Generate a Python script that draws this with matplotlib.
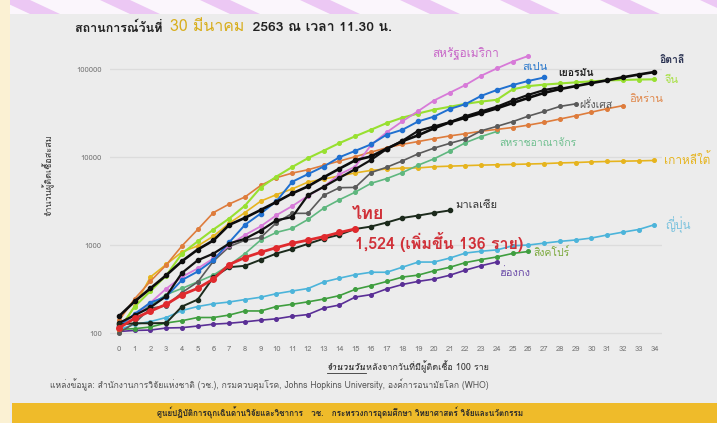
import matplotlib
matplotlib.use("Agg")
import matplotlib.pyplot as plt
from matplotlib import font_manager as fm
from matplotlib.patches import Rectangle, Polygon
import numpy as np

# ---------------- find a font with Thai glyphs ----------------
thai_family = None
try:
    from fontTools.ttLib import TTFont
    cands = sorted(fm.findSystemFonts())
    for f in cands:
        try:
            tt = TTFont(f, fontNumber=0, lazy=True)
            cm = tt.getBestCmap()
            if cm and 0x0E44 in cm and 0x0E2A in cm and 0x0E13 in cm:
                thai_family = fm.FontProperties(fname=f).get_name()
                fm.fontManager.addfont(f)
                break
        except Exception:
            pass
except Exception:
    pass
fams = ([thai_family] if thai_family else []) + ['DejaVu Sans']
plt.rcParams['font.family'] = fams

# ---------------- data (cumulative cases, day 0 = first day >= 100) ----------------
usa = [124, 158, 221, 319, 435, 541, 704, 994, 1301, 1630, 2183, 2770, 3613, 4596, 6344,
       7780, 13677, 19100, 25489, 33272, 43847, 53740, 65778, 83836, 101657, 121478, 140886]
spain = [120, 165, 222, 259, 400, 500, 673, 1073, 1695, 2277, 3146, 5232, 6391, 7798, 9942,
         11748, 13910, 17963, 20410, 25374, 28768, 35136, 39885, 49515, 57786, 65719, 73235, 80110]
germany = [130, 159, 196, 262, 482, 670, 799, 1040, 1176, 1457, 1908, 2078, 3675, 4585, 5795,
           7272, 9257, 12327, 15320, 19848, 22213, 24873, 29056, 32986, 37323, 43938, 50871,
           57695, 62095]
italy = [155, 229, 322, 453, 655, 888, 1128, 1694, 2036, 2502, 3089, 3858, 4636, 5883, 7375,
         9172, 10149, 12462, 15113, 17660, 21157, 24747, 27980, 31506, 35713, 41035, 47021,
         53578, 59138, 63927, 69176, 74386, 80589, 86498, 92472]
china = [110, 200, 300, 450, 800, 1100, 1500, 2000, 2800, 4500, 6000, 7700, 9700, 11800, 14400,
         17200, 20400, 24300, 28000, 31200, 34500, 37200, 40200, 42600, 44700, 58800, 63900,
         66500, 68500, 70500, 72400, 74200, 75000, 75900, 76300]
iran = [139, 245, 388, 593, 978, 1501, 2336, 2922, 3513, 4747, 5823, 6566, 7161, 8042, 9000,
        10075, 11364, 12729, 13938, 14991, 16169, 17361, 18407, 19644, 20610, 21638, 23049,
        24811, 27017, 29406, 32332, 35408, 38309]
france = [100, 130, 191, 204, 288, 380, 656, 957, 1134, 1217, 1792, 2289, 2290, 3672, 4480,
          4513, 6650, 7652, 9043, 10871, 12612, 14282, 16018, 19856, 22304, 25233, 29155,
          32964, 37575, 40174]
uk = [116, 164, 207, 273, 321, 382, 456, 590, 798, 1140, 1391, 1543, 1950, 2626, 3269, 3983,
      5018, 5683, 6650, 8077, 9529, 11658, 14543, 17089, 19522]
korea = [104, 204, 433, 602, 833, 977, 1261, 1766, 2337, 3150, 3736, 4335, 5186, 5621, 6088,
         6593, 7041, 7314, 7478, 7513, 7755, 7869, 7979, 8086, 8162, 8236, 8320, 8413, 8565,
         8652, 8799, 8897, 8961, 9037, 9137]
malaysia = [125, 129, 129, 130, 200, 240, 430, 560, 580, 680, 800, 900, 1030, 1180, 1310,
            1520, 1620, 1800, 2030, 2160, 2320, 2470]
thailand = [114, 147, 177, 212, 272, 322, 411, 599, 721, 827, 934, 1045, 1136, 1245, 1388, 1524]
japan = [110, 125, 135, 150, 180, 200, 215, 225, 240, 255, 280, 300, 320, 380, 420, 460, 490,
         490, 560, 640, 640, 710, 810, 850, 880, 980, 1000, 1050, 1100, 1140, 1200, 1300, 1400,
         1500, 1700]
singapore = [110, 112, 117, 130, 138, 150, 150, 160, 178, 178, 200, 212, 226, 243, 266, 313,
             345, 385, 432, 455, 509, 558, 631, 683, 732, 802, 844]
hongkong = [104, 107, 108, 114, 115, 120, 126, 129, 134, 140, 145, 155, 162, 192, 208, 256,
            273, 317, 356, 386, 410, 453, 518, 582, 641]

x_ticks = list(range(0, 35))
y_ticks = [100, 1000, 10000, 100000]

title_a = "สถานการณ์วันที่ "
title_b = "30 มีนาคม"
title_c = " 2563 ณ เวลา 11.30 น."
thai_total_label = "1,524 (เพิ่มขึ้น 136 ราย)"
xlabel_a = "จำนวนวัน"
xlabel_b = "หลังจากวันที่มีผู้ติดเชื้อ 100 ราย"
ylabel = "จำนวนผู้ติดเชื้อสะสม"
source = "แหล่งข้อมูล: สำนักงานการวิจัยแห่งชาติ (วช.), กรมควบคุมโรค, Johns Hopkins University, องค์การอนามัยโลก (WHO)"
banner = "ศูนย์ปฏิบัติการฉุกเฉินด้านวิจัยและวิชาการ   วช.   กระทรวงการอุดมศึกษา วิทยาศาสตร์ วิจัยและนวัตกรรม"

# (name, data, line color, label color, lw, ms, label offset px, ha, fontsize, weight)
series = [
    ("ฮ่องกง", hongkong, "#5a2f96", "#6a4aa8", 1.2, 2.6, (3, -11), "left", 8, "normal"),
    ("สิงคโปร์", singapore, "#3f9e3f", "#7aa83a", 1.2, 2.6, (5, -1), "left", 7.5, "normal"),
    ("ญี่ปุ่น", japan, "#4cb4da", "#7cc3de", 1.2, 2.6, (11, 0), "left", 8.5, "normal"),
    ("เกาหลีใต้", korea, "#e6b41e", "#e6b41e", 1.2, 2.6, (10, 1), "left", 8.5, "normal"),
    ("สหราชอาณาจักร", uk, "#5fb77f", "#6fbf8f", 1.2, 2.6, (2, -12), "left", 7.5, "normal"),
    ("อิหร่าน", iran, "#de7c3c", "#e0874a", 1.2, 2.6, (6, 7), "left", 8, "normal"),
    ("ฝรั่งเศส", france, "#5a5a5a", "#555555", 1.2, 2.6, (4, -1), "left", 7.5, "normal"),
    ("จีน", china, "#98e030", "#a6e040", 1.5, 2.6, (10, -1), "left", 8, "normal"),
    ("สหรัฐอเมริกา", usa, "#d77ad8", "#c868c8", 1.3, 2.6, (-96, 2), "left", 8.5, "normal"),
    ("สเปน", spain, "#2070d0", "#2a78cc", 1.4, 3.0, (-9, 10), "center", 8, "normal"),
    ("เยอรมัน", germany, "#111111", "#222222", 1.6, 3.0, (-2, 14), "left", 7.5, "bold"),
    ("อิตาลี", italy, "#0c0c0c", "#283050", 1.9, 3.0, (5, 12), "left", 7.5, "bold"),
    ("มาเลเซีย", malaysia, "#1c2a1c", "#333333", 1.4, 3.0, (6, 5), "left", 8, "normal"),
    ("ไทย", thailand, "#e02a2e", "#d03038", 2.0, 4.0, (-3, 15), "left", 13, "bold"),
]

W, H = 717, 423
fig = plt.figure(figsize=(W / 100, H / 100), dpi=100)
fig.patch.set_facecolor("#ececec")

# decorative frame
fig.patches.append(Rectangle((0, 1 - 14 / H), 1, 14 / H, transform=fig.transFigure,
                             facecolor="#fbf6fc", edgecolor="none", zorder=0))
for i in range(-1, 9):
    x0 = i * 100 / W
    fig.patches.append(Polygon([(x0, 1), (x0 + 30 / W, 1), (x0 + 60 / W, 1 - 14 / H),
                                (x0 + 30 / W, 1 - 14 / H)], closed=True, transform=fig.transFigure,
                               facecolor="#ecc8f4", edgecolor="none", zorder=0))
fig.patches.append(Rectangle((0, 0), 10 / W, 1, transform=fig.transFigure,
                             facecolor="#fbf1d3", edgecolor="none", zorder=0))
fig.patches.append(Rectangle((12 / W, 0), 1, 20 / H, transform=fig.transFigure,
                             facecolor="#efbb2a", edgecolor="none", zorder=0))
fig.text(340 / W, 10 / H, banner, fontsize=5.8, color="#2a2a2a", ha="center", va="center",
         fontweight="bold")

# main axes
ylo, yhi = 85, 200000
ax_h = (np.log10(yhi) - np.log10(ylo)) * 88 / H
ax_bottom = (H - (333 + (2 - np.log10(ylo)) * 88)) / H
ax = fig.add_axes([110 / W, ax_bottom, 552 / W, ax_h])
ax.set_facecolor("#ececec")
ax.set_yscale("log")
ax.set_ylim(ylo, yhi)
ax.set_xlim(-0.57, 34.48)
for s in ax.spines.values():
    s.set_visible(False)
ax.set_yticks(y_ticks)
ax.set_yticklabels([str(v) for v in y_ticks])
ax.yaxis.set_minor_locator(matplotlib.ticker.NullLocator())
ax.set_xticks(x_ticks)
ax.set_xticklabels([str(v) for v in x_ticks])
ax.tick_params(axis="both", length=0, labelsize=5.5, colors="#777777")
ax.tick_params(axis="y", pad=6)
ax.tick_params(axis="x", pad=5)
ax.grid(axis="y", color="#dcdcdc", lw=0.9)
ax.set_axisbelow(True)

for name, data, col, lcol, lw, ms, off, ha, fs, fw in series:
    d = np.arange(len(data))
    ax.plot(d, data, color=col, lw=lw, marker="o", ms=ms, mec=col, mfc=col, zorder=3)
    ax.annotate(name, xy=(d[-1], data[-1]), xytext=off, textcoords="offset pixels",
                ha=ha, va="center", fontsize=fs, color=lcol, fontweight=fw, zorder=5)

ax.annotate(thai_total_label, xy=(len(thailand) - 1, thailand[-1]), xytext=(0, -13),
            textcoords="offset pixels", ha="left", va="center", fontsize=11.5,
            color="#d03038", fontweight="bold", zorder=5)

# titles and labels
fig.text(75 / W, 1 - 28 / H, title_a, fontsize=9, fontweight="bold", color="#222222",
         va="center", ha="left")
fig.text(170 / W, 1 - 27 / H, title_b, fontsize=11.5, color="#d8ae1c", va="center", ha="left")
fig.text(248 / W, 1 - 28 / H, title_c, fontsize=10, fontweight="bold", color="#222222",
         va="center", ha="left")

fig.canvas.draw()
r = fig.canvas.get_renderer()
t1 = fig.text(327 / W, 1 - 367 / H, xlabel_a, fontsize=6.5, color="#333333", va="center",
              ha="left", fontweight="bold", fontstyle="italic")
bb = t1.get_window_extent(r)
fig.text(bb.x1 / W, 1 - 367 / H, xlabel_b, fontsize=6.5, color="#333333", va="center", ha="left")
fig.add_artist(matplotlib.lines.Line2D([bb.x0 / W, bb.x1 / W], [(bb.y0 - 1) / H, (bb.y0 - 1) / H],
                                       color="#333333", lw=0.6, transform=fig.transFigure))
fig.text(48 / W, 1 - 175 / H, ylabel, fontsize=6.5, color="#333333", rotation=90,
         va="center", ha="center")
fig.text(50 / W, 1 - 385 / H, source, fontsize=6.2, color="#555555", va="center", ha="left")

fig.savefig("out.png", dpi=100, facecolor=fig.get_facecolor())
